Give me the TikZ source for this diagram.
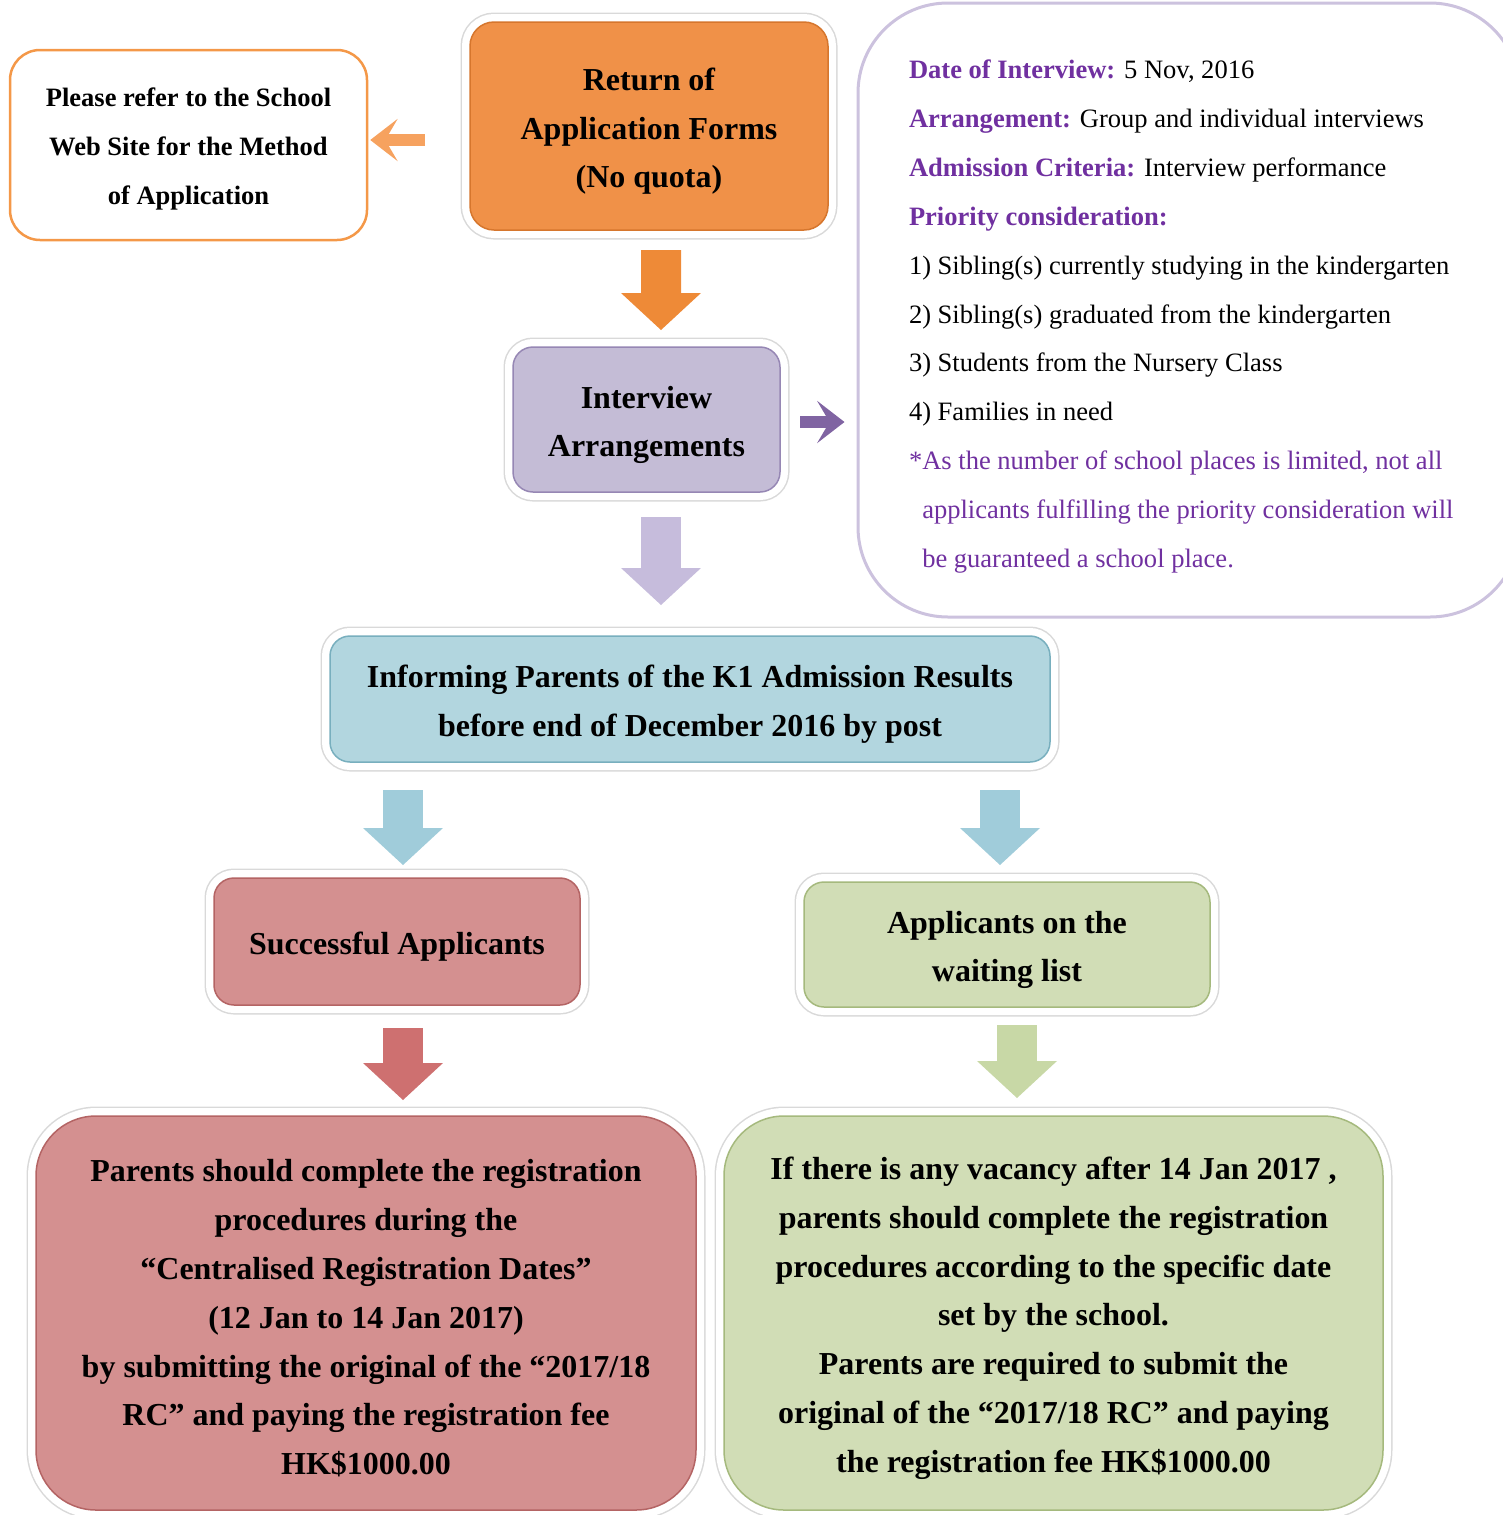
\documentclass[tikz,border=0pt]{standalone}
\usepackage{fontspec}
\setmainfont{Liberation Serif}
\usetikzlibrary{arrows.meta,calc}
\newlength{\pxu}
\setlength{\pxu}{0.02cm}
\definecolor{orgfill}{RGB}{240,145,72}
\definecolor{orgline}{RGB}{214,118,45}
\definecolor{orgarrow}{RGB}{238,138,55}
\definecolor{orgsmall}{RGB}{246,162,95}
\definecolor{webline}{RGB}{244,152,72}
\definecolor{purfill}{RGB}{196,188,214}
\definecolor{purline}{RGB}{150,135,180}
\definecolor{purlight}{RGB}{198,188,220}
\definecolor{purarrow}{RGB}{128,100,162}
\definecolor{purtext}{RGB}{112,48,160}
\definecolor{lavline}{RGB}{204,194,222}
\definecolor{blufill}{RGB}{178,214,223}
\definecolor{bluline}{RGB}{120,175,190}
\definecolor{bluarrow}{RGB}{160,204,218}
\definecolor{redfill}{RGB}{212,144,144}
\definecolor{redline}{RGB}{180,100,100}
\definecolor{redarrow}{RGB}{206,112,112}
\definecolor{grnfill}{RGB}{209,221,182}
\definecolor{grnline}{RGB}{165,185,125}
\definecolor{grnarrow}{RGB}{200,216,166}

\begin{document}
\begin{tikzpicture}[x=0.02cm, y=-0.02cm,
		bigfont/.style={font=\fontsize{18.2}{27.8}\selectfont\bfseries},
		smallfont/.style={font=\fontsize{15.1}{27.8}\selectfont},
		webfont/.style={font=\fontsize{15.1}{27.8}\selectfont\bfseries},
		topstrut/.style={execute at begin node={\rule{0pt}{#1}}},
		glowbox/.style={rounded corners=#1, line width=1.5\pxu, align=flush center, inner sep=0pt, outer sep=0pt, bigfont, topstrut=33\pxu,
			preaction={draw=black!15, line width=19\pxu},
			preaction={draw=white, line width=16\pxu}},
		blockarrow/.style={draw=#1, line width=0.8cm, -{Triangle[length=0.74cm, width=1.6cm, line width=0pt]}},
		thinarrow/.style={draw=#1, line width=0.24cm, -{Stealth[length=0.55cm, width=0.85cm, inset=0.25cm, line width=0pt]}}
	]
			\useasboundingbox (0, 0) rectangle (1503, 1515);

			\draw (188.5, 145) 	node[draw=webline, line width=2.5\pxu, rounded corners=30\pxu, fill=white, text width=357\pxu, minimum height=190\pxu, align=flush center, inner sep=0pt, webfont, topstrut=26\pxu] 	(web) 		{Please refer to the School\\Web Site for the Method\\of Application};
			\draw (649, 126) 	node[glowbox=24\pxu, fill=orgfill, draw=orgline, text width=358\pxu, minimum height=208\pxu] 	(ret) 		{Return of\\Application Forms\\(No quota)};
			\draw (646.5, 419.5) 	node[glowbox=20\pxu, fill=purfill, draw=purline, text width=267\pxu, minimum height=145\pxu] 	(int) 		{Interview\\Arrangements};
			\draw (1189, 310) 	node[draw=lavline, line width=3\pxu, rounded corners=90\pxu, fill=white, minimum width=662\pxu, minimum height=614\pxu, text width=560\pxu, align=flush left, inner sep=0pt, smallfont, topstrut=32\pxu] 	(info) 		{\textcolor{purtext}{\bfseries Date of Interview:} 5 Nov, 2016\\
				\textcolor{purtext}{\bfseries Arrangement:} Group and individual interviews\\
				\textcolor{purtext}{\bfseries Admission Criteria:} Interview performance\\
				\textcolor{purtext}{\bfseries Priority consideration:}\\
				1) Sibling(s) currently studying in the kindergarten\\
				2) Sibling(s) graduated from the kindergarten\\
				3) Students from the Nursery Class\\
				4) Families in need\\
				\textcolor{purtext}{*As the number of school places is limited, not all}\\
				\textcolor{purtext}{\hphantom{*}applicants fulfilling the priority consideration will}\\
				\textcolor{purtext}{\hphantom{*}be guaranteed a school place.}};
			\draw (690, 699) 	node[glowbox=20\pxu, fill=blufill, draw=bluline, text width=720\pxu, minimum height=126\pxu] 	(inform) 	{Informing Parents of the K1 Admission Results\\before end of December 2016 by post};
			\draw (397, 941.5) 	node[glowbox=20\pxu, fill=redfill, draw=redline, text width=366\pxu, minimum height=127\pxu] 	(succ) 		{Successful Applicants};
			\draw (1007, 944.5) 	node[glowbox=20\pxu, fill=grnfill, draw=grnline, text width=406\pxu, minimum height=125\pxu] 	(wait) 		{Applicants on the\\waiting list};
			\draw (366, 1313) 	node[glowbox=60\pxu, fill=redfill, draw=redline, text width=660\pxu, minimum height=394\pxu] 	(regbox) 	{Parents should complete the registration\\procedures during the\\“Centralised Registration Dates”\\(12 Jan to 14 Jan 2017)\\by submitting the original of the “2017/18\\RC” and paying the registration fee\\HK\$1000.00};
			\draw (1053.5, 1313) 	node[glowbox=60\pxu, fill=grnfill, draw=grnline, text width=659\pxu, minimum height=394\pxu] 	(vacbox) 	{If there is any vacancy after 14 Jan 2017 ,\\parents should complete the registration\\procedures according to the specific date\\set by the school.\\Parents are required to submit the\\original of the “2017/18 RC” and paying\\the registration fee HK\$1000.00};

			\draw[thinarrow=orgsmall] ($(ret.west |- web.east)+(-45,-5)$) -- ($(web.east)+(2,-5)$);
			\draw[blockarrow=orgarrow] ($(ret.south)+(12,20)$) -- ($(int.north)+(14.5,-17)$);
			\draw[thinarrow=purarrow] ($(int.east)+(20,2.5)$) -- ($(int.east -| info.west)+(-12,2.5)$);
			\draw[blockarrow=purlight] ($(int.south)+(14.5,25)$) -- ($(int.south |- inform.north)+(14.5,-31)$);
			\draw[blockarrow=bluarrow] ($(succ.north |- inform.south)+(6,28)$) -- ($(succ.north)+(6,-13)$);
			\draw[blockarrow=bluarrow] ($(wait.north |- inform.south)+(-7,28)$) -- ($(wait.north)+(-7,-17)$);
			\draw[blockarrow=redarrow] ($(succ.south)+(6,23)$) -- ($(succ.south |- regbox.north)+(6,-16)$);
			\draw[blockarrow=grnarrow] ($(wait.south)+(10,18)$) -- ($(wait.south |- vacbox.north)+(10,-18)$);
		\end{tikzpicture}
\end{document}
